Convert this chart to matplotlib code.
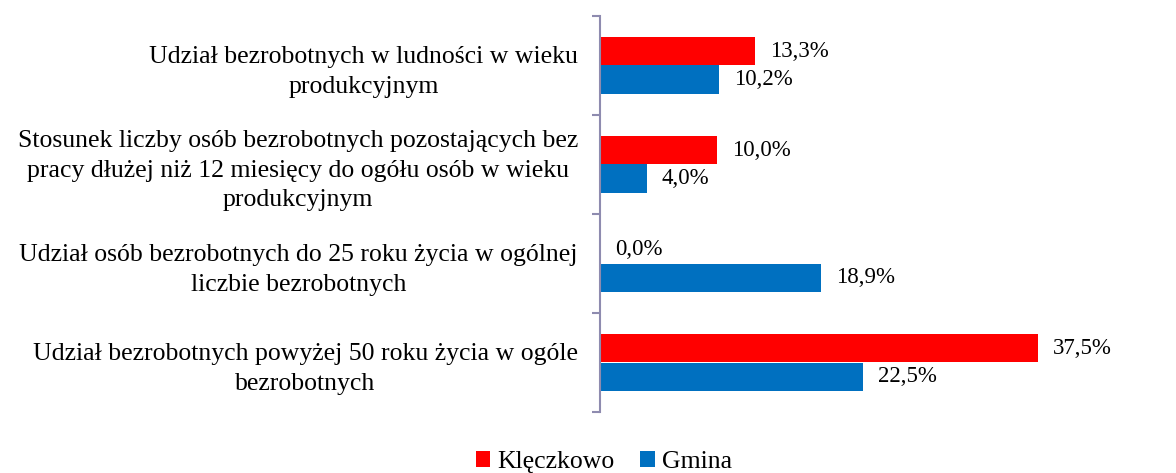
import matplotlib
matplotlib.use("Agg")
import matplotlib.pyplot as plt
import numpy as np

categories = [
    "Udział bezrobotnych w ludności w wieku\nprodukcyjnym",
    "Stosunek liczby osób bezrobotnych pozostających bez\npracy dłużej niż 12 miesięcy do ogółu osób w wieku\nprodukcyjnym",
    "Udział osób bezrobotnych do 25 roku życia w ogólnej\nliczbie bezrobotnych",
    "Udział bezrobotnych powyżej 50 roku życia w ogóle\nbezrobotnych",
]
series_names = ["Klęczkowo", "Gmina"]
kleczkowo = [13.3, 10.0, 0.0, 37.5]
gmina = [10.2, 4.0, 18.9, 22.5]
colors = ["#FF0000", "#0070C0"]

plt.rcParams['font.family'] = ['Liberation Serif', 'DejaVu Serif']

fig = plt.figure(figsize=(11.76, 4.73), dpi=100)
ax = fig.add_axes([600/1176, 1-412/473, 550/1176, 396/473])

y = np.arange(len(categories))
h = 0.283
bars1 = ax.barh(y - h/2, kleczkowo, height=h, color=colors[0], label=series_names[0])
bars2 = ax.barh(y + h/2, gmina, height=h, color=colors[1], label=series_names[1])

ax.set_xlim(0, 550/11.68)
ax.set_ylim(len(categories) - 0.5, -0.5)

fs = 18.5
vfs = 16.5
for bars, vals in ((bars1, kleczkowo), (bars2, gmina)):
    for b, v in zip(bars, vals):
        ax.annotate(f"{v:.1f}%".replace(".", ","),
                    xy=(b.get_width(), b.get_y() + b.get_height()/2),
                    xytext=(15, 0), textcoords="offset pixels",
                    ha="left", va="center", fontsize=vfs, color="#000000")

for s in ("top", "right", "bottom"):
    ax.spines[s].set_visible(False)
ax.spines["left"].set_color("#8E8BAF")
ax.spines["left"].set_linewidth(1.5)
ax.set_xticks([])
ax.set_yticks(y)
ax.set_yticklabels(categories, fontsize=fs, multialignment="center", linespacing=1.45)
ax.tick_params(axis="y", which="major", length=0, pad=16)
ax.set_yticks(np.arange(-0.5, len(categories)), minor=True)
ax.tick_params(axis="y", which="minor", length=6, width=1.5, color="#8E8BAF")

leg = fig.legend(loc="center", bbox_to_anchor=(604/1176, 1-462/473), ncol=2,
                 frameon=False, fontsize=fs, handlelength=0.55, handleheight=0.55,
                 handletextpad=0.3, columnspacing=1.0, borderpad=0)

fig.savefig("out.png", dpi=100)
